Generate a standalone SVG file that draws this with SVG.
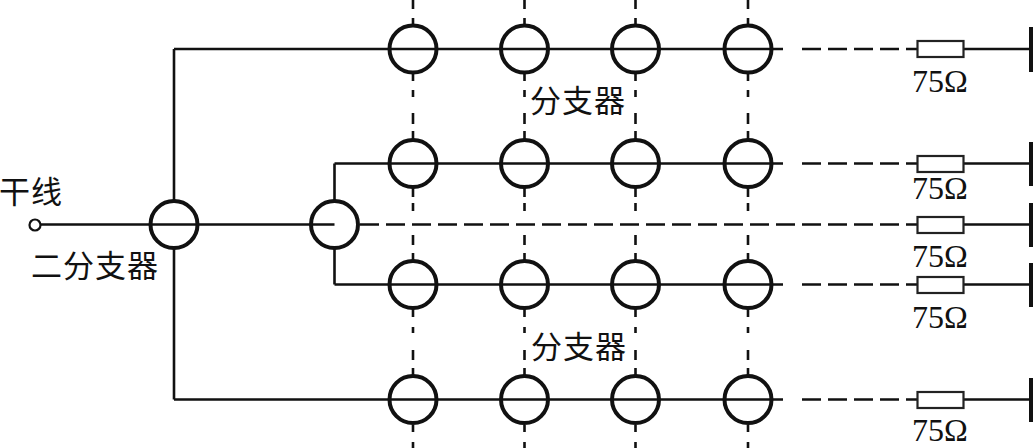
<svg xmlns="http://www.w3.org/2000/svg" width="1033" height="448" viewBox="0 0 1033 448">
<style>
.w{stroke:#111;stroke-width:2.6;fill:none}
.d{stroke:#111;stroke-width:2.6;fill:none;stroke-dasharray:19 7}
.v{stroke:#111;stroke-width:2.6;fill:none}
.c{stroke:#111;stroke-width:4;fill:none}
.r{stroke:#222;stroke-width:2.2;fill:#fff}
.b{stroke:#111;stroke-width:4;fill:none}
.t{font-family:"Liberation Serif",serif;font-size:32px;fill:#111}
.z{font-family:"Noto Sans CJK SC",sans-serif;font-size:31px;fill:#111;letter-spacing:1px}
</style>
<defs>
<g id="sp"><circle class="c" r="23.5"/></g>
<path id="vd" class="v" d="M0 0V9M0 18V25M0 73V81M0 90V97M0 113V124M0 131V139M0 187V197M0 203V211M0 235V245M0 253V260M0 309V317M0 327V333M0 350V360M0 368V375M0 425V432M0 442V448"/>
</defs>
<g id="connectors">
<use href="#vd" x="413"/><use href="#vd" x="524.5"/><use href="#vd" x="635.5"/><use href="#vd" x="748"/>
<path class="w" d="M41 224.5H334.5M174 49V201M174 248V399.5M334.5 163.5V201M334.5 248V284.5"/>
<path class="w" d="M174 49H783M334.5 163.5H783M334.5 284.5H783M174 399.5H783"/>
<path class="d" d="M802 49H917M802 163.5H917M802 284.5H917M802 399.5H917"/>
<path class="d" d="M360 224.5H917"/>
<path class="w" d="M964 49H1031M964 163.5H1031M964 224.5H1031M964 284.5H1031M964 399.5H1031"/>
</g>
<g id="terminal"><circle cx="35" cy="225" r="5.5" stroke="#111" stroke-width="2.2" fill="#fff"/></g>
<g id="splitter-main"><use href="#sp" x="174" y="224.5"/></g>
<g id="splitter-sub"><use href="#sp" x="334.5" y="224.5"/></g>
<g id="row1"><use href="#sp" x="413" y="49"/><use href="#sp" x="524.5" y="49"/><use href="#sp" x="635.5" y="49"/><use href="#sp" x="748" y="49"/></g>
<g id="row2"><use href="#sp" x="413" y="163.5"/><use href="#sp" x="524.5" y="163.5"/><use href="#sp" x="635.5" y="163.5"/><use href="#sp" x="748" y="163.5"/></g>
<g id="row3"><use href="#sp" x="413" y="284.5"/><use href="#sp" x="524.5" y="284.5"/><use href="#sp" x="635.5" y="284.5"/><use href="#sp" x="748" y="284.5"/></g>
<g id="row4"><use href="#sp" x="413" y="399.5"/><use href="#sp" x="524.5" y="399.5"/><use href="#sp" x="635.5" y="399.5"/><use href="#sp" x="748" y="399.5"/></g>
<g id="load1"><rect class="r" x="917.5" y="41" width="46" height="16"/><path class="b" d="M1031 27V72"/><text class="t" x="912" y="92">75Ω</text></g>
<g id="load2"><rect class="r" x="917.5" y="156" width="46" height="16"/><path class="b" d="M1031 142V186"/><text class="t" x="912" y="199">75Ω</text></g>
<g id="load3"><rect class="r" x="917.5" y="217" width="46" height="16"/><path class="b" d="M1031 203V247"/><text class="t" x="912" y="267">75Ω</text></g>
<g id="load4"><rect class="r" x="917.5" y="277" width="46" height="16"/><path class="b" d="M1031 263V307"/><text class="t" x="912" y="328">75Ω</text></g>
<g id="load5"><rect class="r" x="917.5" y="392" width="46" height="16"/><path class="b" d="M1031 378V422"/><text class="t" x="912" y="441">75Ω</text></g>
<g id="labels">
<text class="z" x="-1" y="203">干线</text>
<text class="z" x="31" y="277">二分支器</text>
<text class="z" x="530" y="112">分支器</text>
<text class="z" x="531" y="358">分支器</text>
</g>
</svg>
